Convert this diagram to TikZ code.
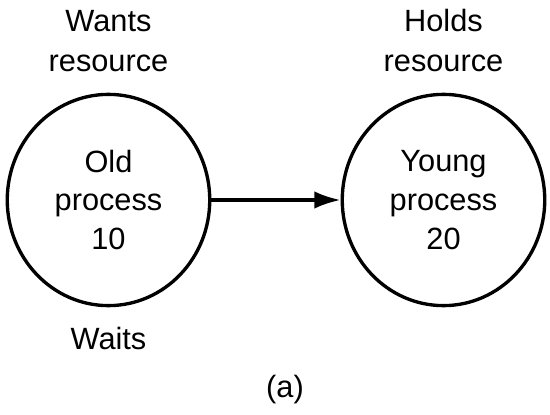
\documentclass[tikz,border=0pt]{standalone}
\usepackage{fontspec}
\setmainfont{Liberation Sans}
\usetikzlibrary{arrows.meta, positioning, shapes.geometric}

\begin{document}
\begin{tikzpicture}[scale=1.0,
    >=Latex,
    proc/.style={draw, ellipse, line width=3.8pt, minimum width=8.1cm, minimum height=8.45cm, inner sep=0pt, align=center, font=\fontsize{35}{44}\selectfont},
    lbl/.style={inner sep=0pt, align=center, font=\fontsize{35}{45}\selectfont},
    edge/.style={line width=3.8pt, -{Latex[length=1.05cm, width=0.7cm]}},
]
\useasboundingbox (0,0) rectangle (22,16.56);

% Processes
\node[proc] (old) at (4.34, 8.56) {Old\\process\\10};
\node[proc] (young) at (17.74, 8.56) {Young\\process\\20};

% Labels
\node[lbl, above=0.84cm of old] (wants) {Wants\\resource};
\node[lbl, above=0.84cm of young] (holds) {Holds\\resource};
\node[lbl, below=0.8cm of old] (waits) {Waits};

% Wait-for edge
\draw[edge] (old) -- (young);

% Caption
\node[lbl] (cap) at (11.4, 0.96) {(a)};

\end{tikzpicture}
\end{document}
